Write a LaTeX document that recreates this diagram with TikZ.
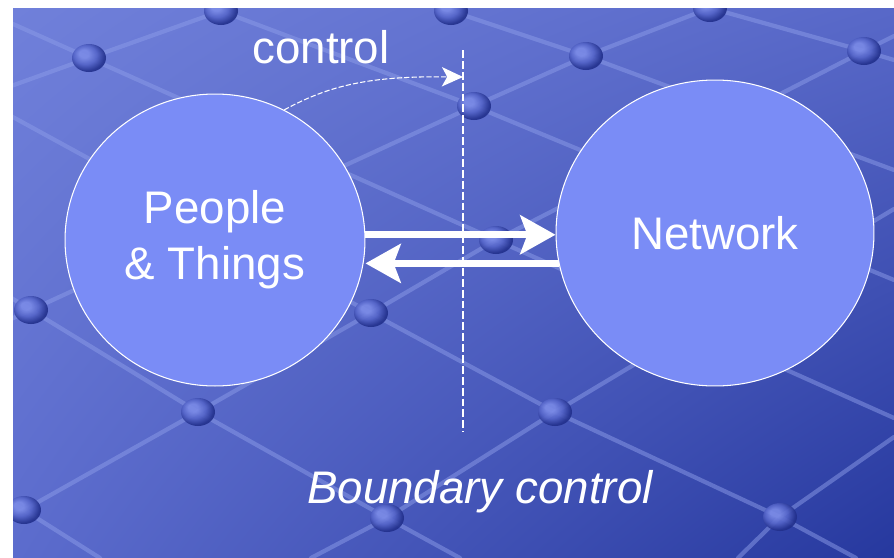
\documentclass[tikz,border=0pt]{standalone}
\usepackage{fontspec}
\setmainfont{Liberation Sans}
\usetikzlibrary{arrows.meta,shapes.geometric,shadings}
\definecolor{bgtl}{RGB}{112,128,218}
\definecolor{bgtr}{RGB}{88,104,200}
\definecolor{bgbl}{RGB}{92,108,205}
\definecolor{bgbr}{RGB}{38,56,158}
\definecolor{blobfill}{RGB}{122,140,246}
\definecolor{gridline}{RGB}{140,156,232}
\definecolor{knoblt}{RGB}{122,138,230}
\definecolor{knobmid}{RGB}{84,100,200}
\definecolor{knobdk}{RGB}{34,48,140}
\pgfdeclareradialshading{knobshade}{\pgfqpoint{-9bp}{9bp}}{color(0bp)=(knoblt); color(7bp)=(knoblt); color(17bp)=(knobmid); color(27bp)=(knobdk); color(50bp)=(knobdk)}

\begin{document}
\begin{tikzpicture}[x=0.02cm, y=-0.02cm,
  blob/.style={draw=white, line width=0.6pt, fill=blobfill, ellipse, inner sep=0pt, text=white, align=center, font=\fontsize{26}{32}\selectfont},
  rod/.style={gridline, line width=2.4pt, opacity=0.5, line cap=round},
  knobball/.style={shading=knobshade, opacity=0.9},
  bigarrow/.style={white, line width=4pt, -{Stealth[length=20pt, width=22pt, inset=4pt]}},
  caption/.style={text=white, font=\fontsize{26}{32}\selectfont, anchor=base}]
\useasboundingbox (0,0) rectangle (894,558);

% Background
\fill[white] (0,0) rectangle (894,558);
\shade[upper left=bgtl, upper right=bgtr, lower left=bgbl, lower right=bgbr] (13,8) rectangle (894,558);

% Grid of rods and knobs
\begin{scope}
\clip (13,8) rectangle (894,558);
\draw[rod] (13,24) -- (894,418);
\draw[rod] (200,3) -- (221,11) -- (474,106) -- (894,280);
\draw[rod] (430,4) -- (451,11) -- (586,56) -- (894,170);
\draw[rod] (690,0) -- (710,8) -- (864,51) -- (894,60);
\draw[rod] (0,291) -- (31,310) -- (198,412) -- (387,518) -- (460,558);
\draw[rod] (0,110) -- (371,313) -- (555,412) -- (780,517) -- (856,558);
\draw[rod] (0,496) -- (24,510) -- (100,558);
\draw[rod] (0,518) -- (24,510) -- (198,412) -- (371,313) -- (496,240) -- (864,51) -- (894,36);
\draw[rod] (311,558) -- (387,518) -- (555,412) -- (894,209);
\draw[rod] (738,558) -- (780,517) -- (894,437);
\draw[rod] (0,324) -- (31,310) -- (474,106) -- (586,56) -- (710,8) -- (730,0);
\draw[rod] (0,90) -- (89,58) -- (221,11) -- (250,0);
\foreach \p in {(89,58),(221,11),(451,11),(586,56),(710,8),(864,51),(474,106),(31,310),(371,313),(496,240),(198,412),(555,412),(24,510),(387,518),(780,517)}
  \shade[knobball] \p ellipse [x radius=17, y radius=14];
\end{scope}

% Circles
\node[blob, minimum width=6cm, minimum height=5.84cm] (people) at (215,240) {People\\\& Things};
\node[blob, minimum width=6.36cm, minimum height=6.12cm] (network) at (715,233) {Network};

% Boundary
\coordinate (btop) at (463,50);
\coordinate (bbot) at (463,432);
\draw[white, line width=0.6pt, dash pattern=on 4.5pt off 1.7pt] (btop) -- (bbot);

% Control arrow
\coordinate (ctip) at (463,77);
\draw[white, line width=0.6pt, dash pattern=on 3pt off 1.2pt, -{Stealth[length=12pt, width=11pt, inset=3pt]}] (people.62) .. controls (330,85) and (370,76) .. (ctip);

% Two-way arrows
\draw[bigarrow] (people.2) -- (people.2 -| network.west);
\draw[bigarrow] (network.191) -- (network.191 -| people.east);

% Labels
\node[caption] (ctl) at (321,63) {control};
\node[caption, font=\fontsize{26}{32}\selectfont\itshape] (bnd) at (480,503) {Boundary control};
\end{tikzpicture}
\end{document}
